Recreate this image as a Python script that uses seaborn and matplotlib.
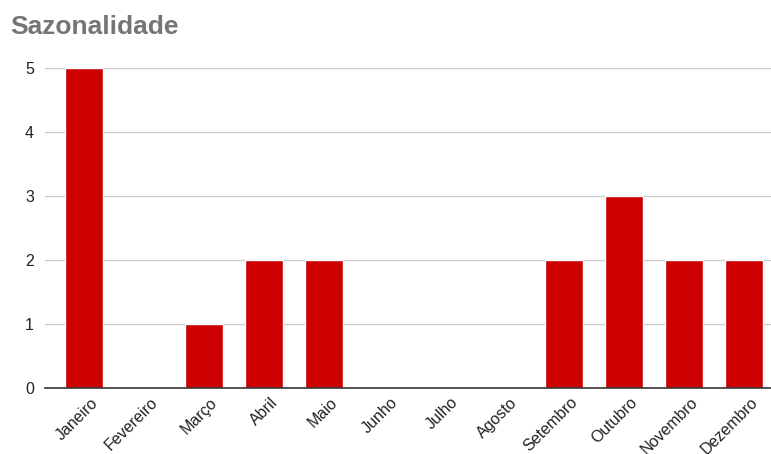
import matplotlib
matplotlib.use("Agg")
import matplotlib.pyplot as plt
import matplotlib.transforms as mtransforms
import seaborn as sns
import pandas as pd

months = ["Janeiro", "Fevereiro", "Março", "Abril", "Maio", "Junho",
          "Julho", "Agosto", "Setembro", "Outubro", "Novembro", "Dezembro"]
counts = [5, 0, 1, 2, 2, 0, 0, 0, 2, 3, 2, 2]
y_ticks = [0, 1, 2, 3, 4, 5]

df = pd.DataFrame({"mes": months, "qtd": counts})

sns.set_theme(style="white")
plt.rcParams["font.family"] = ["Liberation Sans", "DejaVu Sans"]

fig = plt.figure(figsize=(7.71, 4.54), dpi=100)
ax = fig.add_axes([45 / 771, 1 - 388 / 454, 1 - 45 / 771, (388 - 68) / 454])

sns.barplot(data=df, x="mes", y="qtd", color="#cc0000", saturation=1,
            width=0.63, ax=ax, zorder=3)

ax.set_xlim(-0.65, 11.45)
ax.set_ylim(0, 5)
ax.set_yticks(y_ticks)
ax.yaxis.grid(True, color="#cccccc", linewidth=1, zorder=0)
ax.set_axisbelow(True)
for side in ["top", "right", "left"]:
    ax.spines[side].set_visible(False)
ax.spines["bottom"].set_color("#333333")
ax.spines["bottom"].set_linewidth(1.2)
ax.spines["bottom"].set_zorder(4)

ax.set_xlabel("")
ax.set_ylabel("")
ax.tick_params(axis="both", length=0, labelsize=11.5, colors="#222222")
ax.tick_params(axis="y", pad=8)
ax.tick_params(axis="x", pad=5)
shift = mtransforms.ScaledTranslation(6 / 100, 0, fig.dpi_scale_trans)
for lbl in ax.get_xticklabels():
    lbl.set_rotation(45)
    lbl.set_ha("right")
    lbl.set_rotation_mode("anchor")
    lbl.set_transform(lbl.get_transform() + shift)

fig.text(10 / 771, 1 - 27 / 454, "Sazonalidade", fontsize=19, fontweight="bold",
         color="#757575", va="center", ha="left")

fig.savefig("out.png", dpi=100)
